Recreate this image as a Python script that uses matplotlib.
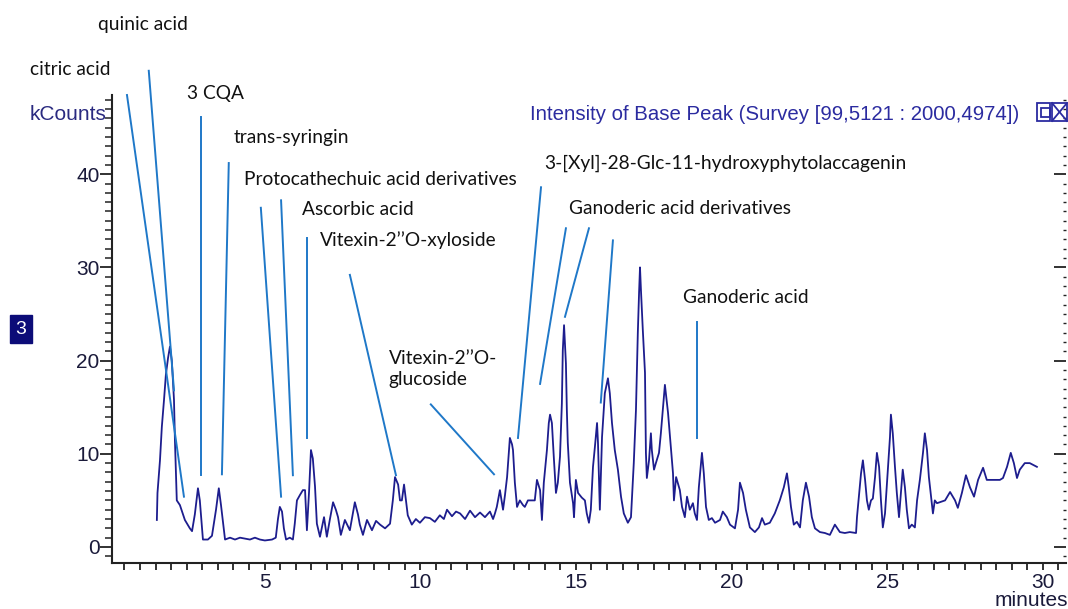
import matplotlib
matplotlib.use("Agg")
import matplotlib.pyplot as plt
from matplotlib.ticker import MultipleLocator
from matplotlib.patches import Rectangle
from matplotlib.lines import Line2D

# retention time (minutes) and base peak intensity (kCounts)
time_min = [1.54, 1.56, 1.64, 1.70, 1.77, 1.83, 1.90, 1.96, 2.02, 2.09, 2.12, 2.18, 2.28, 2.44,
            2.60, 2.67, 2.76, 2.86, 2.92, 3.02, 3.18, 3.31, 3.44, 3.53, 3.60, 3.73, 3.89, 4.05,
            4.21, 4.37, 4.53, 4.69, 4.85, 5.01, 5.24, 5.36, 5.43, 5.49, 5.56, 5.62, 5.69, 5.81,
            5.91, 5.97, 6.04, 6.14, 6.23, 6.30, 6.36, 6.43, 6.49, 6.55, 6.62, 6.68, 6.78, 6.91,
            7.00, 7.10, 7.20, 7.29, 7.36, 7.45, 7.58, 7.74, 7.90, 8.00, 8.06, 8.16, 8.29, 8.45,
            8.58, 8.71, 8.87, 9.03, 9.12, 9.19, 9.29, 9.35, 9.41, 9.48, 9.54, 9.60, 9.73, 9.86,
            9.99, 10.15, 10.31, 10.47, 10.63, 10.76, 10.86, 11.02, 11.15, 11.28, 11.44, 11.60,
            11.76, 11.92, 12.08, 12.24, 12.34, 12.40, 12.46, 12.56, 12.66, 12.72, 12.79, 12.85,
            12.88, 12.95, 12.98, 13.04, 13.11, 13.20, 13.30, 13.36, 13.46, 13.59, 13.68, 13.75,
            13.85, 13.91, 13.97, 14.07, 14.13, 14.17, 14.23, 14.29, 14.36, 14.42, 14.49, 14.55,
            14.58, 14.62, 14.68, 14.71, 14.74, 14.81, 14.91, 14.94, 15.00, 15.07, 15.19, 15.29,
            15.35, 15.42, 15.48, 15.55, 15.61, 15.68, 15.71, 15.77, 15.84, 15.93, 16.03, 16.09,
            16.16, 16.25, 16.35, 16.45, 16.54, 16.67, 16.77, 16.86, 16.93, 16.99, 17.03, 17.06,
            17.09, 17.15, 17.22, 17.25, 17.28, 17.35, 17.41, 17.44, 17.51, 17.57, 17.67, 17.73,
            17.80, 17.86, 17.96, 18.05, 18.12, 18.15, 18.22, 18.34, 18.41, 18.50, 18.57, 18.66,
            18.76, 18.82, 18.89, 18.95, 19.02, 19.05, 19.11, 19.18, 19.27, 19.37, 19.47, 19.63,
            19.72, 19.85, 19.95, 20.11, 20.21, 20.27, 20.37, 20.46, 20.59, 20.75, 20.88, 20.98,
            21.07, 21.23, 21.39, 21.55, 21.68, 21.78, 21.84, 21.91, 22.00, 22.10, 22.20, 22.29,
            22.39, 22.49, 22.58, 22.68, 22.84, 23.00, 23.16, 23.32, 23.48, 23.64, 23.80, 24.00,
            24.03, 24.09, 24.16, 24.22, 24.29, 24.35, 24.41, 24.48, 24.54, 24.61, 24.67, 24.74,
            24.80, 24.86, 24.93, 25.02, 25.09, 25.12, 25.18, 25.25, 25.31, 25.38, 25.44, 25.50,
            25.57, 25.63, 25.70, 25.79, 25.89, 25.96, 26.05, 26.15, 26.21, 26.28, 26.34, 26.41,
            26.47, 26.53, 26.60, 26.86, 27.02, 27.18, 27.27, 27.40, 27.53, 27.66, 27.79, 27.92,
            28.08, 28.20, 28.62, 28.72, 28.85, 28.97, 29.07, 29.17, 29.26, 29.42, 29.58, 29.81]
kcounts = [2.9, 5.8, 9.3, 12.9, 15.8, 18.5, 20.3, 21.5, 20.0, 15.8, 11.5, 5.0, 4.5, 2.9,
           2.0, 1.7, 3.5, 6.3, 5.0, 0.8, 0.8, 1.2, 4.0, 6.3, 4.5, 0.8, 1.0, 0.8,
           1.0, 0.9, 0.8, 1.0, 0.8, 0.7, 0.8, 1.0, 3.0, 4.3, 3.8, 2.0, 0.8, 1.0,
           0.8, 2.5, 5.0, 5.6, 6.1, 6.1, 1.8, 6.0, 10.4, 9.5, 6.5, 2.5, 1.1, 3.2,
           1.1, 3.0, 4.8, 4.0, 3.2, 1.3, 2.9, 1.8, 4.8, 3.5, 2.4, 1.3, 2.9, 1.8,
           2.8, 2.4, 2.0, 2.5, 5.0, 7.5, 6.7, 5.0, 5.0, 6.7, 5.0, 3.4, 2.4, 3.0,
           2.6, 3.2, 3.1, 2.7, 3.4, 3.0, 4.0, 3.3, 3.8, 3.6, 3.0, 3.9,
           3.2, 3.7, 3.2, 3.8, 3.0, 3.6, 4.3, 6.1, 4.0, 5.5, 7.5, 10.4,
           11.7, 11.0, 10.4, 6.9, 4.3, 5.0, 4.5, 4.3, 5.0, 5.0, 5.0, 7.2,
           6.1, 2.9, 6.9, 10.4, 13.3, 14.2, 13.3, 9.7, 5.8, 6.9, 9.7, 15.4,
           21.1, 23.8, 19.7, 14.7, 11.2, 6.9, 4.7, 3.2, 7.2, 5.8, 5.3, 5.0,
           3.6, 2.6, 4.0, 8.6, 10.7, 13.3, 11.2, 4.0, 11.8, 16.5, 18.1, 16.5,
           13.3, 10.4, 8.3, 5.4, 3.6, 2.6, 3.2, 9.0, 14.7, 23.0, 27.3, 30.0,
           27.6, 23.3, 18.7, 10.1, 7.4, 9.3, 12.2, 10.4, 8.3, 9.0, 10.1, 12.2,
           15.0, 17.4, 14.4, 10.7, 7.9, 5.0, 7.5, 6.1, 4.3, 3.2, 5.4, 4.0,
           4.7, 3.6, 2.9, 6.4, 9.0, 10.1, 7.9, 4.3, 2.9, 3.1, 2.6, 2.9,
           3.8, 3.2, 2.4, 2.0, 4.0, 6.9, 5.8, 4.0, 2.1, 1.6, 2.1, 3.1,
           2.4, 2.6, 3.6, 5.0, 6.4, 7.9, 6.4, 4.3, 2.4, 2.7, 2.1, 5.0,
           6.9, 5.4, 3.2, 2.0, 1.6, 1.5, 1.3, 2.4, 1.6, 1.5, 1.6, 1.5,
           3.2, 5.4, 7.9, 9.3, 7.2, 5.0, 4.0, 5.0, 5.2, 7.5, 10.1, 8.6,
           5.0, 2.1, 3.6, 8.3, 11.8, 14.2, 12.2, 8.6, 5.8, 3.2, 5.8, 8.3,
           6.4, 4.0, 2.0, 2.4, 2.1, 5.0, 7.2, 10.1, 12.2, 10.4, 7.5, 5.4,
           3.6, 5.0, 4.7, 5.0, 5.9, 5.0, 4.2, 5.8, 7.7, 6.4, 5.4, 7.2,
           8.5, 7.2, 7.2, 7.4, 8.6, 10.1, 9.0, 7.4, 8.3, 9.0, 9.0, 8.6]

# compound labels: text, text anchor (min, kCounts), leader lines [(t0, y0, t1, y1), ...]
labels = ["citric acid", "quinic acid", "3 CQA", "trans-syringin",
          "Protocathechuic acid derivatives", "Ascorbic acid",
          "Vitexin-2\u2019\u2019O-xyloside", "Vitexin-2\u2019\u2019O-\nglucoside",
          "3-[Xyl]-28-Glc-11-hydroxyphytolaccagenin", "Ganoderic acid derivatives",
          "Ganoderic acid"]
label_pos = [(-2.54, 51.2), (-0.35, 56.1), (2.51, 48.7), (4.02, 43.9), (4.34, 39.4),
             (6.20, 36.2), (6.78, 32.9), (8.99, 19.1), (13.97, 41.2), (14.78, 36.3),
             (18.44, 26.8)]
leaders = [[(0.58, 48.5, 2.41, 5.4)],
           [(1.28, 51.1, 2.09, 16.8)],
           [(2.96, 46.1, 2.96, 7.7)],
           [(3.85, 41.2, 3.63, 7.8)],
           [(4.88, 36.4, 5.53, 5.4), (5.53, 37.2, 5.91, 7.7)],
           [(6.36, 33.2, 6.36, 11.7)],
           [(7.74, 29.2, 9.22, 7.7)],
           [(10.34, 15.3, 12.37, 7.8)],
           [(13.88, 38.6, 13.14, 11.7)],
           [(14.68, 34.2, 13.85, 17.5), (15.42, 34.2, 14.65, 24.7), (16.19, 32.9, 15.80, 15.5)],
           [(18.89, 24.1, 18.89, 11.7)]]

trace_col = "#1d1d8e"
lead_col = "#1f78c8"
axis_col = "#222222"

fig = plt.figure(figsize=(10.68, 6.09), dpi=100)
ax = fig.add_axes([0.1049, 0.0755, 0.8931, 0.7685])

ax.plot(time_min, kcounts, color=trace_col, lw=1.3)

for txt, (tx, ty), segs in zip(labels, label_pos, leaders):
    ax.text(tx, ty, txt, family="Lato", fontsize=13.8, color="#111111",
            ha="left", va="center", clip_on=False, linespacing=1.35)
    for t0, y0, t1, y1 in segs:
        ax.plot([t0, t1], [y0, y1], color=lead_col, lw=1.4, clip_on=False)

ax.set_xlim(0.1, 30.74)
ax.set_ylim(-1.72, 48.5)
ax.xaxis.set_minor_locator(MultipleLocator(0.5))
ax.yaxis.set_minor_locator(MultipleLocator(1))
ax.set_xticks([5, 10, 15, 20, 25, 30])
ax.set_yticks([0, 10, 20, 30, 40])

ax.spines["top"].set_visible(False)
ax.spines["right"].set_visible(False)
for s in ["left", "bottom"]:
    ax.spines[s].set_color(axis_col)
    ax.spines[s].set_linewidth(1.5)

ax.tick_params(axis="x", which="both", direction="out", length=5, width=1.3,
               color=axis_col, labelsize=15, labelcolor="#1a1a3a", pad=2)
ax.tick_params(axis="y", which="major", direction="out", length=9, width=1.3,
               color=axis_col, labelsize=15, labelcolor="#1a1a3a", pad=0)
ax.tick_params(axis="y", which="minor", direction="out", length=5, width=1.1,
               color=axis_col)
for lab in ax.get_xticklabels() + ax.get_yticklabels():
    lab.set_family("Liberation Sans")

# right-hand inward ticks
ax2 = ax.twinx()
ax2.set_ylim(ax.get_ylim())
ax2.yaxis.set_major_locator(MultipleLocator(10))
ax2.yaxis.set_minor_locator(MultipleLocator(1))
ax2.tick_params(axis="y", which="major", direction="in", length=9, width=1.3,
                color=axis_col, labelright=False)
ax2.tick_params(axis="y", which="minor", direction="in", length=2, width=1,
                color=axis_col)
for s in ["top", "left", "bottom", "right"]:
    ax2.spines[s].set_visible(False)

fig.text(30 / 1068, 1 - 114 / 609, "kCounts", family="Liberation Sans", fontsize=15,
         color="#2a2a80", ha="left", va="center")
fig.text(1068 / 1068, 1 - 600 / 609, "minutes", family="Liberation Sans", fontsize=15,
         color="#1a1a3a", ha="right", va="center")
fig.text(530 / 1068, 1 - 114 / 609, "Intensity of Base Peak (Survey [99,5121 : 2000,4974])",
         family="Liberation Sans", fontsize=14.7, color="#2b2ba0", ha="left", va="center")
fig.text(21 / 1068, 1 - 329 / 609, "3", family="Liberation Sans", fontsize=14,
         color="white", ha="center", va="center",
         bbox=dict(boxstyle="square,pad=0.3", fc="#0c0c78", ec="#0c0c78"))

# little window icons in the top right corner
def px_rect(x0, y0, x1, y1):
    return Rectangle((x0 / 1068, 1 - y1 / 609), (x1 - x0) / 1068, (y1 - y0) / 609,
                     transform=fig.transFigure, fill=False, ec="#2b2ba0", lw=1.3)

fig.patches.extend([px_rect(1037, 103, 1050, 121), px_rect(1041, 108, 1050, 117),
                    px_rect(1052, 103, 1067, 121)])
fig.lines.extend([Line2D([1052 / 1068, 1067 / 1068], [1 - 103 / 609, 1 - 121 / 609],
                         transform=fig.transFigure, color="#2b2ba0", lw=1.3),
                  Line2D([1052 / 1068, 1067 / 1068], [1 - 121 / 609, 1 - 103 / 609],
                         transform=fig.transFigure, color="#2b2ba0", lw=1.3)])

fig.savefig("out.png", dpi=100)
